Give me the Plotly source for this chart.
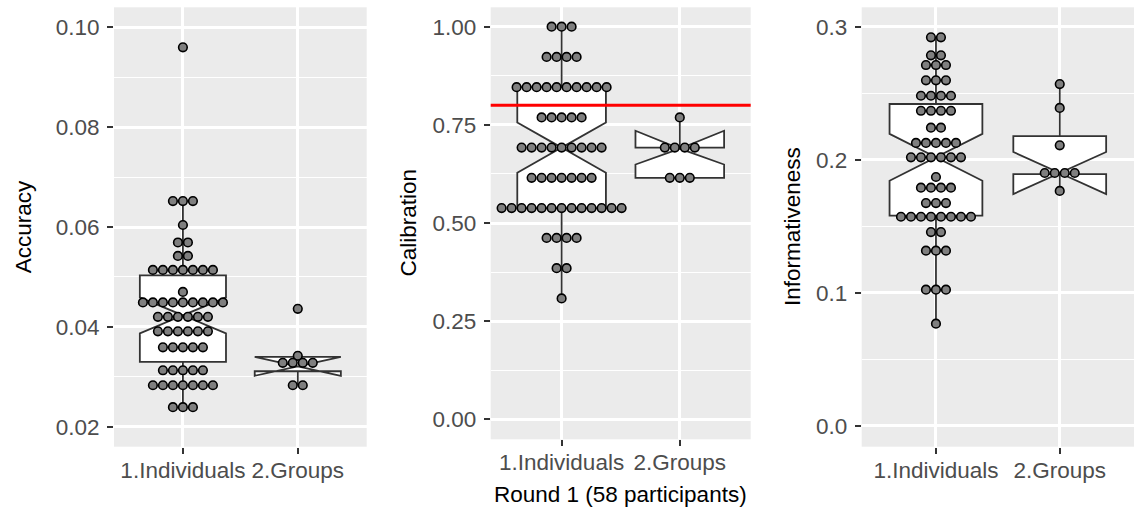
import plotly.graph_objects as go

# ---------------- data ----------------
categories = ["1.Individuals", "2.Groups"]
cat_pos = [1, 2]

# Accuracy: dot rows (binned value, number of dots)
acc_ind_values = [0.0960, 0.0652, 0.0604, 0.0569, 0.0542, 0.0514, 0.0470, 0.0449,
                  0.0420, 0.0391, 0.0359, 0.0313, 0.0283, 0.0239]
acc_ind_counts = [1, 3, 1, 2, 2, 7, 1, 9, 6, 6, 5, 5, 7, 3]
acc_grp_values = [0.0436, 0.0342, 0.0328, 0.0283]
acc_grp_counts = [1, 1, 4, 2]

# Calibration
cal_ind_values = [1.000, 0.923, 0.846, 0.769, 0.692, 0.615, 0.538, 0.462, 0.385, 0.308]
cal_ind_counts = [3, 4, 10, 5, 9, 7, 13, 4, 2, 1]
cal_grp_values = [0.769, 0.692, 0.615]
cal_grp_counts = [1, 4, 3]
calibration_target = 0.8

# Informativeness
inf_ind_values = [0.2920, 0.2785, 0.2712, 0.2597, 0.2481, 0.2368, 0.2241, 0.2126, 0.2018,
                  0.1870, 0.1790, 0.1674, 0.1571, 0.1456, 0.1316, 0.1023, 0.0767]
inf_ind_counts = [2, 2, 3, 3, 4, 4, 2, 5, 6, 1, 4, 3, 8, 2, 3, 3, 1]
inf_grp_values = [0.2569, 0.2389, 0.2108, 0.1900, 0.1765]
inf_grp_counts = [1, 1, 1, 4, 1]

# Box statistics [Individuals, Groups]
acc_q1 = [0.0330, 0.0311]
acc_med = [0.0423, 0.0321]
acc_q3 = [0.0503, 0.0340]
acc_lo = [0.0239, 0.0283]
acc_hi = [0.0652, 0.0342]
acc_notch = [0.0036, 0.0019]

cal_q1 = [0.538, 0.615]
cal_med = [0.692, 0.692]
cal_q3 = [0.846, 0.692]
cal_lo = [0.308, 0.615]
cal_hi = [1.000, 0.769]
cal_notch = [0.064, 0.043]

inf_q1 = [0.1579, 0.1892]
inf_med = [0.2018, 0.1900]
inf_q3 = [0.2419, 0.2178]
inf_lo = [0.0767, 0.1765]
inf_hi = [0.2920, 0.2569]
inf_notch = [0.0176, 0.0158]

# axis ticks
acc_ticks = [0.02, 0.04, 0.06, 0.08, 0.10]
acc_ticktext = ["0.02", "0.04", "0.06", "0.08", "0.10"]
cal_ticks = [0.00, 0.25, 0.50, 0.75, 1.00]
cal_ticktext = ["0.00", "0.25", "0.50", "0.75", "1.00"]
inf_ticks = [0.0, 0.1, 0.2, 0.3]
inf_ticktext = ["0.0", "0.1", "0.2", "0.3"]

# ---------------- layout constants ----------------
W, H = 1139, 510
FONT = "Liberation Sans, Arial, sans-serif"
XRANGE = [0.4, 2.6]
DOT_PX = 10.0

panels = [
    dict(xdom=[114 / W, 366.7 / W], ydom=[(H - 446.7) / H, (H - 7.3) / H],
         yrange=[0.01599, 0.10401], ticks=acc_ticks, ticktext=acc_ticktext,
         title="Accuracy", title_x=23.3, title_y=227,
         ind=(acc_ind_values, acc_ind_counts), grp=(acc_grp_values, acc_grp_counts),
         box=(acc_q1, acc_med, acc_q3, acc_lo, acc_hi, acc_notch)),
    dict(xdom=[490.7 / W, 750.7 / W], ydom=[(H - 439.3) / H, (H - 7.3) / H],
         yrange=[-0.0509, 1.0494], ticks=cal_ticks, ticktext=cal_ticktext,
         title="Calibration", title_x=407.5, title_y=223,
         ind=(cal_ind_values, cal_ind_counts), grp=(cal_grp_values, cal_grp_counts),
         box=(cal_q1, cal_med, cal_q3, cal_lo, cal_hi, cal_notch)),
    dict(xdom=[861.7 / W, 1134 / W], ydom=[(H - 446.7) / H, (H - 7.3) / H],
         yrange=[-0.0158, 0.3146], ticks=inf_ticks, ticktext=inf_ticktext,
         title="Informativeness", title_x=792, title_y=227,
         ind=(inf_ind_values, inf_ind_counts), grp=(inf_grp_values, inf_grp_counts),
         box=(inf_q1, inf_med, inf_q3, inf_lo, inf_hi, inf_notch)),
]


def expand_dots(values, counts, center, spacing):
    xs, ys = [], []
    for v, n in zip(values, counts):
        for i in range(n):
            xs.append(center + (i - (n - 1) / 2) * spacing)
            ys.append(v)
    return xs, ys


fig = go.Figure()
annotations = []

for k, p in enumerate(panels):
    sfx = "" if k == 0 else str(k + 1)
    xa, ya = "x" + sfx, "y" + sfx
    q1, med, q3, lo, hi, notch = p["box"]
    fig.add_trace(go.Box(
        x=cat_pos, q1=q1, median=med, q3=q3, lowerfence=lo, upperfence=hi,
        notchspan=notch, notched=True, notchwidth=0.5, width=0.75, whiskerwidth=0,
        boxpoints=False, fillcolor="white", line=dict(color="#333333", width=1.8),
        xaxis=xa, yaxis=ya, showlegend=False, hoverinfo="skip"))

    px_per_unit = W * (p["xdom"][1] - p["xdom"][0]) / (XRANGE[1] - XRANGE[0])
    spacing = DOT_PX / px_per_unit
    xs, ys = [], []
    for center, (vals, cnts) in zip(cat_pos, [p["ind"], p["grp"]]):
        dx, dy = expand_dots(vals, cnts, center, spacing)
        xs += dx
        ys += dy
    fig.add_trace(go.Scatter(
        x=xs, y=ys, mode="markers",
        marker=dict(size=8.6, color="#7f7f7f", line=dict(color="black", width=1.6)),
        xaxis=xa, yaxis=ya, showlegend=False, hoverinfo="skip"))

    ticks = p["ticks"]
    minor_vals = [(a + b) / 2 for a, b in zip(ticks[:-1], ticks[1:])]
    axis_common = dict(
        showgrid=True, gridcolor="white", gridwidth=2.8, zeroline=False, showline=False,
        ticks="outside", ticklen=6, tickwidth=2.4, tickcolor="#333333",
        tickfont=dict(family=FONT, size=22.5, color="#4D4D4D"),
    )
    fig.update_layout(**{
        "xaxis" + sfx: dict(domain=p["xdom"], anchor=ya, range=XRANGE,
                            tickmode="array", tickvals=cat_pos, ticktext=categories,
                            ticklabelstandoff=-3, **axis_common),
        "yaxis" + sfx: dict(domain=p["ydom"], anchor=xa, range=p["yrange"],
                            tickmode="array", tickvals=ticks, ticktext=p["ticktext"],
                            ticklabelstandoff=3,
                            minor=dict(tickvals=minor_vals, showgrid=True,
                                       gridcolor="white", gridwidth=1.4, ticks=""),
                            **axis_common),
    })
    annotations.append(dict(
        text=p["title"], x=p["title_x"] / W, y=(H - p["title_y"]) / H,
        xref="paper", yref="paper", textangle=-90, showarrow=False,
        xanchor="center", yanchor="middle",
        font=dict(family=FONT, size=22.5, color="black")))

annotations.append(dict(
    text="Round 1 (58 participants)", x=620.7 / W, y=(H - 494) / H,
    xref="paper", yref="paper", showarrow=False, xanchor="center", yanchor="middle",
    font=dict(family=FONT, size=22.5, color="black")))

fig.add_shape(type="line", xref="x2 domain", x0=0, x1=1, yref="y2",
              y0=calibration_target, y1=calibration_target,
              line=dict(color="#FF0000", width=3), layer="above")

fig.update_layout(
    width=W, height=H, margin=dict(l=0, r=0, t=0, b=0),
    paper_bgcolor="white", plot_bgcolor="#EBEBEB",
    annotations=annotations, showlegend=False,
    font=dict(family=FONT),
)

fig.write_html("out.html", config={"displayModeBar": False})
